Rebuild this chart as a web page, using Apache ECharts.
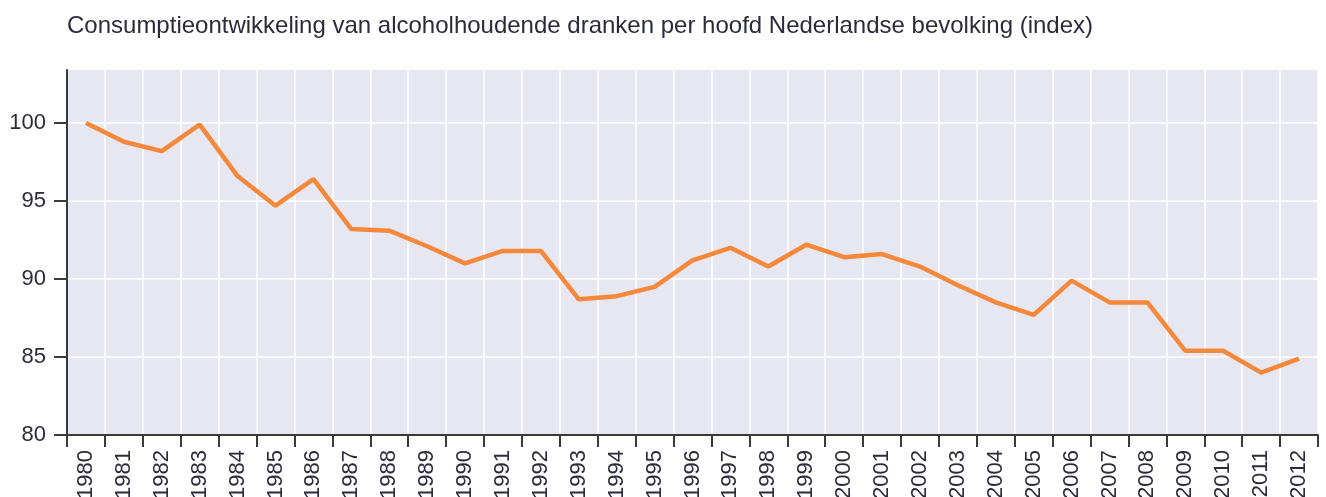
<!DOCTYPE html>
<html>
<head>
<meta charset="utf-8">
<script src="https://cdn.jsdelivr.net/npm/echarts@6/dist/echarts.min.js"></script>
<style>
  html, body { margin: 0; padding: 0; background: #fff; }
  #chart { width: 1326px; height: 497px; }
</style>
</head>
<body>
<div id="chart"></div>
<script>
// jaartallen
const years = ['1980', '1981', '1982', '1983', '1984', '1985', '1986', '1987', '1988', '1989',
  '1990', '1991', '1992', '1993', '1994', '1995', '1996', '1997', '1998', '1999',
  '2000', '2001', '2002', '2003', '2004', '2005', '2006', '2007', '2008', '2009',
  '2010', '2011', '2012'];
// index consumptie per hoofd (1980 = 100)
const indexValues = [100.0, 98.8, 98.2, 99.9, 96.6, 94.7, 96.4, 93.2, 93.1, 92.1,
  91.0, 91.8, 91.8, 88.7, 88.9, 89.5, 91.2, 92.0, 90.8, 92.2,
  91.4, 91.6, 90.8, 89.6, 88.5, 87.7, 89.9, 88.5, 88.5, 85.4,
  85.4, 84.0, 84.9];
const yTicks = [80, 85, 90, 95, 100];

const textColor = '#2b2b3b';
const axisColor = '#3a3a3a';

let option = {
  animation: false,
  title: {
    text: 'Consumptieontwikkeling van alcoholhoudende dranken per hoofd Nederlandse bevolking (index)',
    left: 62,
    top: 9,
    textStyle: {
      fontFamily: 'Liberation Sans',
      fontSize: 24,
      fontWeight: 'normal',
      color: textColor,
    },
  },
  grid: {
    left: 67,
    right: 8,
    top: 70,
    bottom: 62,
    containLabel: false,
    outerBoundsMode: 'none',
    show: true,
    backgroundColor: '#e7e7f1',
    borderWidth: 0,
  },
  xAxis: {
    type: 'category',
    boundaryGap: true,
    data: years,
    axisLine: { lineStyle: { color: axisColor, width: 2 } },
    axisTick: {
      show: true,
      alignWithLabel: false,
      length: 12,
      lineStyle: { color: axisColor, width: 2 },
    },
    axisLabel: {
      rotate: 90,
      margin: 15,
      interval: 0,
      fontFamily: 'Liberation Sans',
      fontSize: 22,
      color: textColor,
    },
    splitLine: {
      show: true,
      interval: 0,
      lineStyle: { color: '#ffffff', width: 1.5 },
    },
  },
  yAxis: {
    type: 'value',
    min: 80,
    max: 103.4,
    interval: 5,
    axisLine: { show: true, lineStyle: { color: axisColor, width: 2 } },
    axisTick: {
      show: true,
      length: 13,
      customValues: yTicks,
      lineStyle: { color: axisColor, width: 2 },
    },
    axisLabel: {
      margin: 21,
      customValues: yTicks,
      fontFamily: 'Liberation Sans',
      fontSize: 22,
      color: textColor,
    },
    splitLine: {
      show: true,
      lineStyle: { color: '#ffffff', width: 1.5 },
    },
  },
  series: [
    {
      type: 'line',
      data: indexValues,
      showSymbol: false,
      symbol: 'none',
      lineStyle: { color: '#f5883a', width: 4.5 },
    },
  ],
};

let chart = echarts.init(document.getElementById('chart'));
chart.setOption(option);
window.addEventListener('resize', () => {
  chart.resize();
});
</script>
</body>
</html>
